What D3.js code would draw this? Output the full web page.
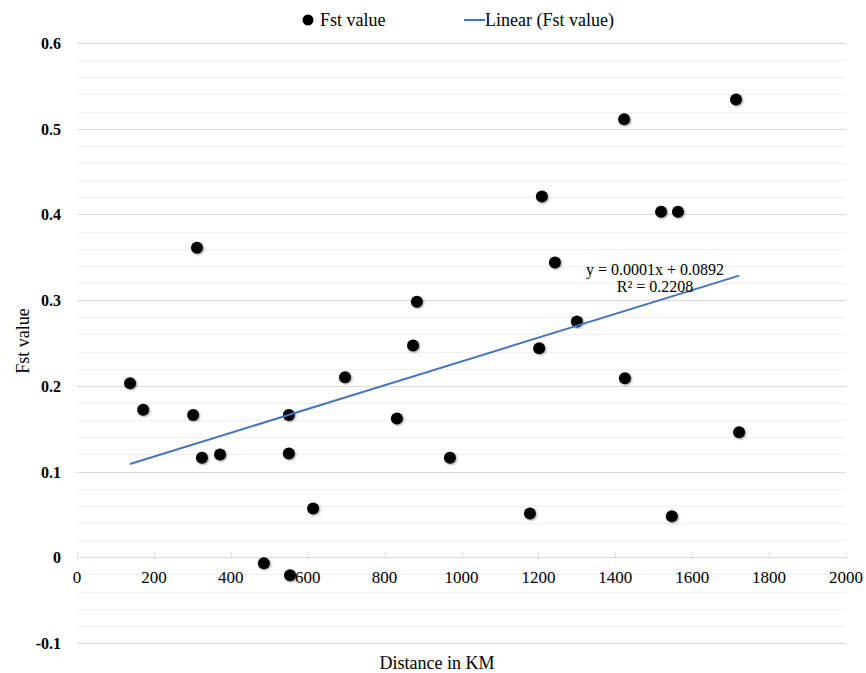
<!DOCTYPE html>
<html>
<head>
<meta charset="utf-8">
<script src="https://cdn.jsdelivr.net/npm/d3@7"></script>
<style>
  body { margin: 0; background: #fff; }
  svg { display: block; font-family: "Liberation Serif", "Times New Roman", serif; }
</style>
</head>
<body>
<div id="chart"></div>
<script>
// Fst value vs distance
const distanceKm = [138, 172, 312, 302, 325, 372, 486, 554, 551, 551, 614, 697, 832, 874,
                    884, 970, 1178, 1202, 1209, 1243, 1300, 1423, 1425, 1519, 1563, 1547, 1714, 1722];
const fstValues = [0.203, 0.172, 0.361, 0.166, 0.116, 0.120, -0.007, -0.021, 0.166, 0.121, 0.057, 0.210, 0.162, 0.247,
                   0.298, 0.116, 0.051, 0.244, 0.421, 0.344, 0.275, 0.511, 0.209, 0.403, 0.403, 0.048, 0.534, 0.146];
const xTicks = [0, 200, 400, 600, 800, 1000, 1200, 1400, 1600, 1800, 2000];
const yTicks = [-0.1, 0, 0.1, 0.2, 0.3, 0.4, 0.5, 0.6];
const yMinorTicks = d3.range(-0.1, 0.6001, 0.02);
const equationLines = ['y = 0.0001x + 0.0892', 'R² = 0.2208'];

const width = 866, height = 673;
const margin = { top: 43, right: 20, bottom: 30, left: 77 };

const svg = d3.select('#chart').append('svg')
    .attr('width', width)
    .attr('height', height);

const x = d3.scaleLinear().domain([0, 2000]).range([margin.left, width - margin.right]);
const y = d3.scaleLinear().domain([-0.1, 0.6]).range([height - margin.bottom, margin.top]);

// minor gridlines
svg.append('g')
    .selectAll('line')
    .data(yMinorTicks)
    .join('line')
    .attr('x1', x(0)).attr('x2', x(2000))
    .attr('y1', d => Math.round(y(d)) + 0.5).attr('y2', d => Math.round(y(d)) + 0.5)
    .attr('stroke', '#efefef')
    .attr('stroke-width', 1);

// major gridlines
svg.append('g')
    .selectAll('line')
    .data(yTicks)
    .join('line')
    .attr('x1', x(0)).attr('x2', x(2000))
    .attr('y1', d => Math.round(y(d)) + 0.5).attr('y2', d => Math.round(y(d)) + 0.5)
    .attr('stroke', '#d9d9d9')
    .attr('stroke-width', 1);

// y tick labels
svg.append('g')
    .selectAll('text')
    .data(yTicks)
    .join('text')
    .attr('x', 61)
    .attr('y', d => y(d) + 6)
    .attr('text-anchor', 'end')
    .attr('font-size', 16)
    .attr('font-weight', 'bold')
    .attr('fill', '#000')
    .text(d => d === 0 ? '0' : d3.format('.1f')(d).replace('−', '-'));

// x axis at y = 0
const xAxis = svg.append('g');
xAxis.selectAll('line.tick')
    .data(xTicks)
    .join('line')
    .attr('class', 'tick')
    .attr('x1', d => Math.round(x(d)) + 0.5).attr('x2', d => Math.round(x(d)) + 0.5)
    .attr('y1', y(0) - 5).attr('y2', y(0))
    .attr('stroke', '#d9d9d9');
xAxis.selectAll('text')
    .data(xTicks)
    .join('text')
    .attr('x', d => x(d))
    .attr('y', y(0) + 26)
    .attr('text-anchor', 'middle')
    .attr('font-size', 17)
    .attr('fill', '#000')
    .text(d => d);

// trend line (least squares over the points)
const n = distanceKm.length;
const mx = d3.mean(distanceKm), my = d3.mean(fstValues);
let sxy = 0, sxx = 0;
for (let i = 0; i < n; i++) {
    sxy += (distanceKm[i] - mx) * (fstValues[i] - my);
    sxx += (distanceKm[i] - mx) ** 2;
}
const slope = sxy / sxx;
const intercept = my - slope * mx;
const [xMin, xMax] = d3.extent(distanceKm);

// dots
const shadow = svg.append('defs').append('filter').attr('id', 'shadow')
    .attr('x', '-50%').attr('y', '-50%').attr('width', '200%').attr('height', '200%');
shadow.append('feGaussianBlur').attr('in', 'SourceAlpha').attr('stdDeviation', 1.2);
shadow.append('feOffset').attr('dx', 1).attr('dy', 1).attr('result', 'off');
shadow.append('feComponentTransfer').append('feFuncA').attr('type', 'linear').attr('slope', 0.4);
const merge = shadow.append('feMerge');
merge.append('feMergeNode');
merge.append('feMergeNode').attr('in', 'SourceGraphic');

svg.append('g')
    .selectAll('circle')
    .data(distanceKm.map((d, i) => [d, fstValues[i]]))
    .join('circle')
    .attr('cx', d => x(d[0]))
    .attr('cy', d => y(d[1]))
    .attr('r', 6)
    .attr('fill', '#000')
    .attr('filter', 'url(#shadow)');

svg.append('line')
    .attr('x1', x(xMin)).attr('y1', y(slope * xMin + intercept))
    .attr('x2', x(xMax)).attr('y2', y(slope * xMax + intercept))
    .attr('stroke', '#4472c4')
    .attr('stroke-width', 2);

// equation label
svg.append('g')
    .selectAll('text')
    .data(equationLines)
    .join('text')
    .attr('x', 655)
    .attr('y', (d, i) => 275 + i * 17)
    .attr('text-anchor', 'middle')
    .attr('font-size', 16)
    .attr('fill', '#000')
    .text(d => d);

// axis titles
svg.append('text')
    .attr('x', 437)
    .attr('y', 669)
    .attr('text-anchor', 'middle')
    .attr('font-size', 18)
    .text('Distance in KM');

svg.append('text')
    .attr('transform', 'translate(29, 341) rotate(-90)')
    .attr('text-anchor', 'middle')
    .attr('font-size', 18)
    .text('Fst value');

// legend
const legend = svg.append('g');
legend.append('circle')
    .attr('cx', 308).attr('cy', 20).attr('r', 5.5).attr('fill', '#000');
legend.append('text')
    .attr('x', 320).attr('y', 26)
    .attr('font-size', 18)
    .text('Fst value');
legend.append('line')
    .attr('x1', 464).attr('x2', 485).attr('y1', 20).attr('y2', 20)
    .attr('stroke', '#4472c4').attr('stroke-width', 2);
legend.append('text')
    .attr('x', 485).attr('y', 26)
    .attr('font-size', 18)
    .text('Linear (Fst value)');
</script>
</body>
</html>
